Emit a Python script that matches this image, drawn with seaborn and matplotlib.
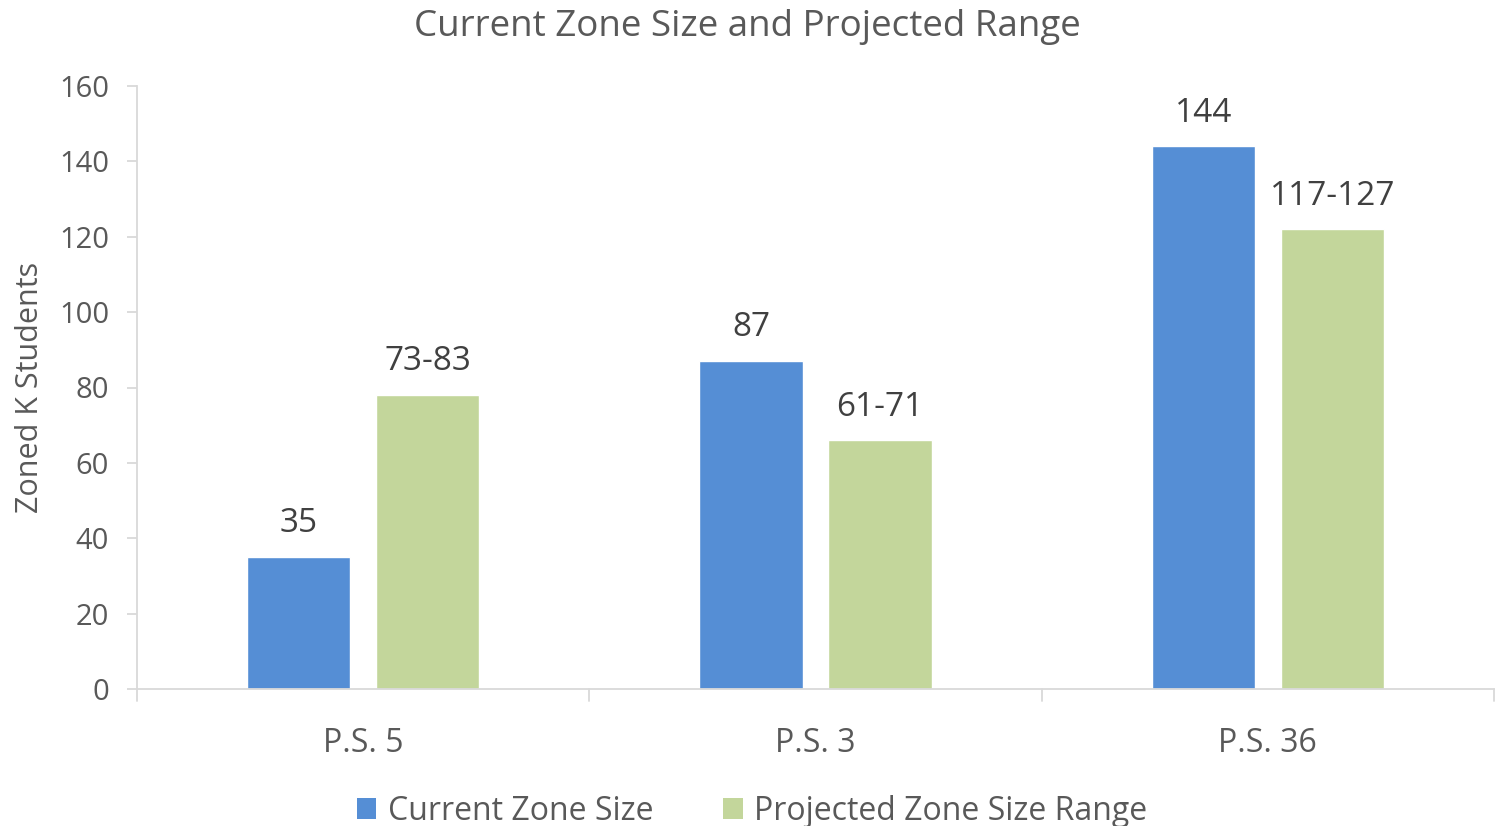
import matplotlib
matplotlib.use("Agg")
import matplotlib.pyplot as plt
import seaborn as sns
import pandas as pd
from matplotlib.patches import Patch

categories = ["P.S. 5", "P.S. 3", "P.S. 36"]
series_names = ["Current Zone Size", "Projected Zone Size Range"]
current_values = [35, 87, 144]
projected_values = [78, 66, 122]
current_labels = ["35", "87", "144"]
projected_labels = ["73-83", "61-71", "117-127"]
y_ticks = [0, 20, 40, 60, 80, 100, 120, 140, 160]

colors = ["#558ED5", "#C3D69B"]

sns.set_style("white")
plt.rcParams['font.family'] = ['Open Sans', 'DejaVu Sans']

df = pd.DataFrame({
    "School": categories * 2,
    "Series": [series_names[0]] * 3 + [series_names[1]] * 3,
    "Value": current_values + projected_values,
})

fig = plt.figure(figsize=(14.95, 8.26), dpi=100)
ax = fig.add_axes([137/1495, 137/826, (1494-137)/1495, (689-86)/826])

sns.barplot(data=df, x="School", y="Value", hue="Series", order=categories,
            hue_order=series_names, palette=colors, width=0.57, gap=0.2,
            saturation=1, ax=ax, legend=False)

ax.set_xlim(-0.5, 2.5)
ax.set_ylim(0, 160)
ax.set_yticks(y_ticks)
ax.tick_params(axis='y', labelsize=21, colors="#D9D9D9", labelcolor="#595959",
               length=7, width=1.3, pad=13, direction='out', left=True)
ax.set_xticks([0, 1, 2])
ax.set_xticklabels(categories)
ax.tick_params(axis='x', labelsize=23, labelcolor="#595959", length=0, pad=27)
# boundary ticks on x axis
for xb in [-0.5, 0.5, 1.5, 2.5]:
    ax.plot([xb, xb], [0, -3.2], color="#D9D9D9", lw=1.3, clip_on=False)

for s in ["top", "right"]:
    ax.spines[s].set_visible(False)
for s in ["left", "bottom"]:
    ax.spines[s].set_color("#D9D9D9")
    ax.spines[s].set_linewidth(1.3)

ax.set_xlabel("")
ax.set_ylabel("Zoned K Students", fontsize=22, color="#595959", labelpad=10)

all_labels = [current_labels, projected_labels]
for cont, labs in zip(ax.containers, all_labels):
    ax.bar_label(cont, labels=labs, padding=12, fontsize=24, color="#404040")

fig.text(0.5, 1 - 27/826, "Current Zone Size and Projected Range", ha="center",
         va="center", fontsize=26.5, color="#595959")

handles = [Patch(facecolor=c, edgecolor='none') for c in colors]
fig.legend(handles, series_names, loc="center", bbox_to_anchor=(0.503, 1 - 811/826),
           ncol=2, frameon=False, fontsize=23, labelcolor="#595959",
           handlelength=0.62, handleheight=0.62, handletextpad=0.35, columnspacing=2.2)

fig.savefig("out.png", dpi=100)
